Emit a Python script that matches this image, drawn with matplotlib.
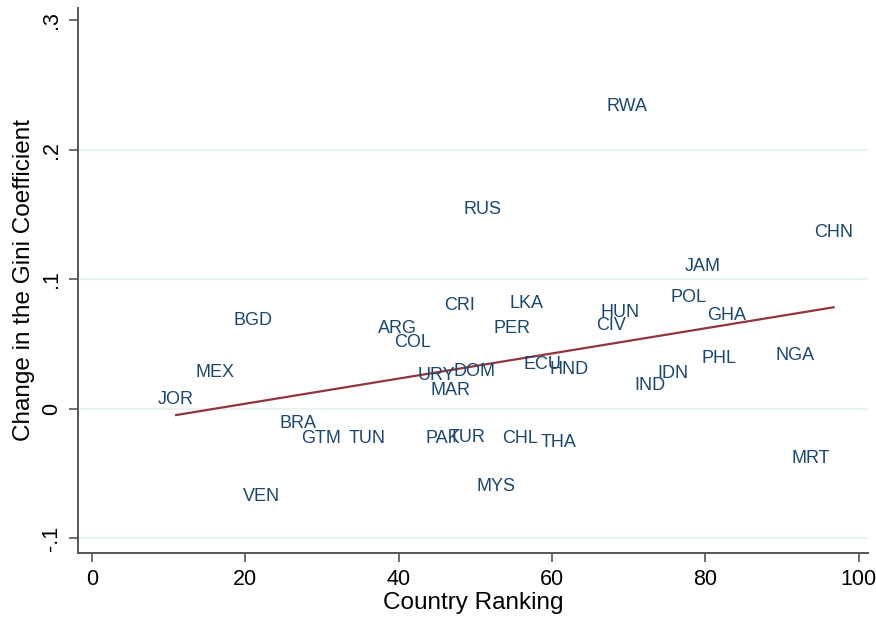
#!/usr/bin/env python3
# Change in the Gini coefficient against country ranking, country codes as
# markers, with the fitted linear trend drawn through the range of rankings.
import matplotlib
matplotlib.use("Agg")
import matplotlib.pyplot as plt

plt.rcParams["font.family"] = ["Liberation Sans", "DejaVu Sans"]

codes = ["RWA", "RUS", "CHN", "JAM", "POL", "GHA", "HUN", "CIV", "LKA", "CRI",
         "PER", "BGD", "ARG", "COL", "MEX", "JOR", "URY", "DOM", "MAR", "ECU",
         "HND", "PHL", "NGA", "IDN", "IND", "BRA", "GTM", "TUN", "PAK", "TUR",
         "CHL", "THA", "MYS", "MRT", "VEN"]
ranking = [69.8, 50.9, 96.7, 79.7, 77.8, 82.7, 68.9, 67.7, 56.7, 47.9,
           54.8, 21.0, 39.8, 41.8, 16.1, 11.0, 44.9, 49.9, 46.8, 58.8,
           62.2, 81.7, 91.7, 75.8, 72.8, 26.9, 29.9, 35.9, 45.8, 48.9,
           55.8, 60.8, 52.7, 93.7, 22.1]
gini_change = [0.233, 0.154, 0.136, 0.110, 0.086, 0.072, 0.074, 0.064, 0.081, 0.080,
               0.062, 0.068, 0.062, 0.051, 0.028, 0.007, 0.026, 0.029, 0.014, 0.034,
               0.030, 0.039, 0.041, 0.027, 0.018, -0.011, -0.023, -0.023, -0.023, -0.022,
               -0.023, -0.026, -0.060, -0.038, -0.068]

# linear fit: intercept, slope
fit = [-0.0155, 0.00097]

NAVY = "#1a476f"
MAROON = "#90353b"
AXC = "#555555"

fig = plt.figure(figsize=(8.76, 6.18), dpi=100)
ax = fig.add_axes([0.089, 0.1057, 0.902, 0.881])

for yv in [-0.1, 0.0, 0.1, 0.2]:
    ax.axhline(yv, color="#eaf2f3", lw=1.6, zorder=0)

for c, x, y in zip(codes, ranking, gini_change):
    ax.text(x, y, c, color=NAVY, fontsize=13, ha="center", va="center")

x0, x1 = min(ranking), max(ranking)
ax.plot([x0, x1], [fit[0] + fit[1] * x0, fit[0] + fit[1] * x1],
        color=MAROON, lw=1.6)

ax.set_xlim(-1.8, 101.2)
ax.set_ylim(-0.111, 0.309)
ax.set_xticks([0, 20, 40, 60, 80, 100])
ax.set_yticks([-0.1, 0, 0.1, 0.2, 0.3])
ax.set_yticklabels(["-.1", "0", ".1", ".2", ".3"], rotation=90, va="center")

for s in ["top", "right"]:
    ax.spines[s].set_visible(False)
for s in ["left", "bottom"]:
    ax.spines[s].set_color(AXC)
    ax.spines[s].set_linewidth(1.4)
ax.tick_params(length=6.5, width=1.2, color=AXC, labelsize=15.5, pad=5)

ax.set_xlabel("Country Ranking", fontsize=17.5, labelpad=2)
ax.set_ylabel("Change in the Gini Coefficient", fontsize=17.5, labelpad=4)

fig.savefig("out.png", dpi=100)
